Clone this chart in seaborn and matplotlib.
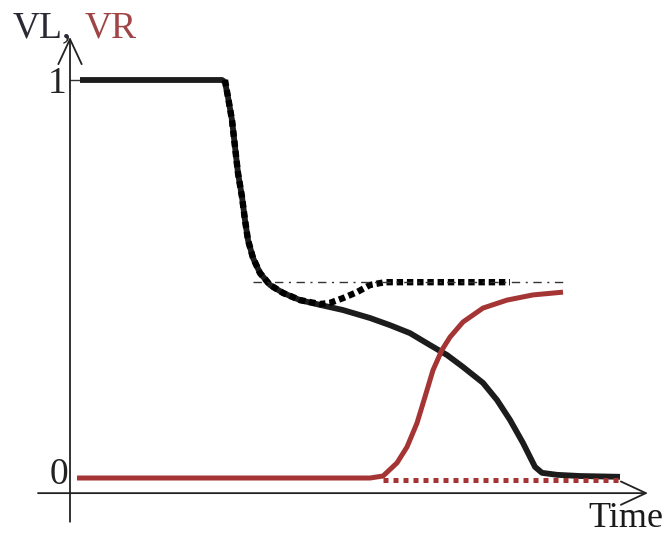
import matplotlib
matplotlib.use("Agg")
import matplotlib.pyplot as plt
import seaborn as sns
import pandas as pd

# ---- data (time in arbitrary units, value normalised 0..1) ----
vl_time = [0.2, 3.04, 3.10, 3.16, 3.24, 3.30, 3.36, 3.44, 3.50, 3.56, 3.66, 3.80, 4.00, 4.26,
           4.60, 5.00, 5.46, 6.00, 6.40, 6.80, 7.20, 7.54, 7.86, 8.26, 8.54, 8.80, 9.06, 9.30,
           9.44, 9.74, 10.2, 11.0]
vl_value = [1.0, 1.0, 0.995, 0.957, 0.899, 0.832, 0.766, 0.706, 0.648, 0.598, 0.553, 0.515,
            0.485, 0.465, 0.447, 0.435, 0.422, 0.402, 0.384, 0.364, 0.334, 0.309, 0.279, 0.239,
            0.196, 0.146, 0.088, 0.028, 0.013, 0.008, 0.005, 0.003]

vl_ideal_time = [3.10, 3.16, 3.24, 3.30, 3.36, 3.44, 3.50, 3.56, 3.66, 3.80, 4.00, 4.26, 4.60,
                 5.00, 5.20, 5.46, 5.74, 6.00, 6.30, 8.80]
vl_ideal_value = [1.0, 0.957, 0.899, 0.832, 0.766, 0.706, 0.648, 0.598, 0.553, 0.515, 0.485,
                  0.465, 0.447, 0.437, 0.440, 0.452, 0.467, 0.485, 0.492, 0.492]

vr_time = [0.14, 6.0, 6.26, 6.54, 6.74, 6.94, 7.10, 7.26, 7.44, 7.60, 7.86, 8.26, 8.74, 9.26, 9.86]
vr_value = [0.0, 0.0, 0.005, 0.038, 0.078, 0.138, 0.204, 0.271, 0.322, 0.354, 0.392, 0.427,
            0.447, 0.460, 0.467]

vr_ideal_time = [6.26, 11.0]
vr_ideal_value = [-0.004, -0.004]

ref_time = [3.66, 9.94]
ref_value = [0.492, 0.492]

tick_labels = ["0", "1"]
tick_values = [0.0, 1.0]
x_label = "Time"
y_label_left = "VL,"
y_label_right = "VR"

BLACK = "#1c1c1c"
RED = "#a53535"

sns.set_theme(style="white")
plt.rcParams["font.family"] = ["Liberation Serif", "DejaVu Serif"]

fig = plt.figure(figsize=(6.64, 5.36), dpi=100)
ax = fig.add_axes([0, 0, 1, 1])
ax.set_xlim(-1.4, 11.88)
ax.set_ylim(-0.1457, 1.201)
ax.set_axis_off()

# axes with arrows
arrow_kw = dict(arrowstyle="->,head_length=0.9,head_width=0.42", color="#222222", lw=1.3,
                shrinkA=0, shrinkB=0, mutation_scale=20)
ax.annotate("", xy=(0, 1.108), xytext=(0, -0.11), arrowprops=arrow_kw)
ax.annotate("", xy=(11.56, -0.038), xytext=(-0.64, -0.038), arrowprops=arrow_kw)
ax.plot([0, 0.22], [1.0, 1.0], color="#333333", lw=1.0)

df_vl = pd.DataFrame({"t": vl_time, "v": vl_value})
df_vli = pd.DataFrame({"t": vl_ideal_time, "v": vl_ideal_value})
df_vr = pd.DataFrame({"t": vr_time, "v": vr_value})
df_vri = pd.DataFrame({"t": vr_ideal_time, "v": vr_ideal_value})
df_ref = pd.DataFrame({"t": ref_time, "v": ref_value})

sns.lineplot(data=df_vl, x="t", y="v", sort=False, estimator=None, ax=ax,
             color=BLACK, lw=4.2, solid_capstyle="butt", solid_joinstyle="round")
sns.lineplot(data=df_vli, x="t", y="v", sort=False, estimator=None, ax=ax,
             color="#000000", lw=4.6, linestyle=(0, (1, 0.6)), dash_joinstyle="round")
sns.lineplot(data=df_vr, x="t", y="v", sort=False, estimator=None, ax=ax,
             color=RED, lw=3.6, solid_capstyle="butt", solid_joinstyle="round")
sns.lineplot(data=df_vri, x="t", y="v", sort=False, estimator=None, ax=ax,
             color=RED, lw=3.6, linestyle=(0, (1, 1)))
sns.lineplot(data=df_ref, x="t", y="v", sort=False, estimator=None, ax=ax,
             color="#333333", lw=1.0, linestyle=(0, (6, 4, 1.5, 4)))

# text
ax.text(-0.07, tick_values[1] - 0.01, tick_labels[1], ha="right", va="center", fontsize=27, color="#222222")
ax.text(-0.04, tick_values[0] + 0.008, tick_labels[0], ha="right", va="center", fontsize=27, color="#222222")
ax.text(-1.14, 1.108, y_label_left, ha="left", va="baseline", fontsize=27, color="#2a2a35")
ax.text(0.3, 1.108, y_label_right, ha="left", va="baseline", fontsize=27, color="#a04545")
ax.text(10.36, -0.123, x_label, ha="left", va="baseline", fontsize=26, color="#1a1a1a")

fig.savefig("out.png", dpi=100)
